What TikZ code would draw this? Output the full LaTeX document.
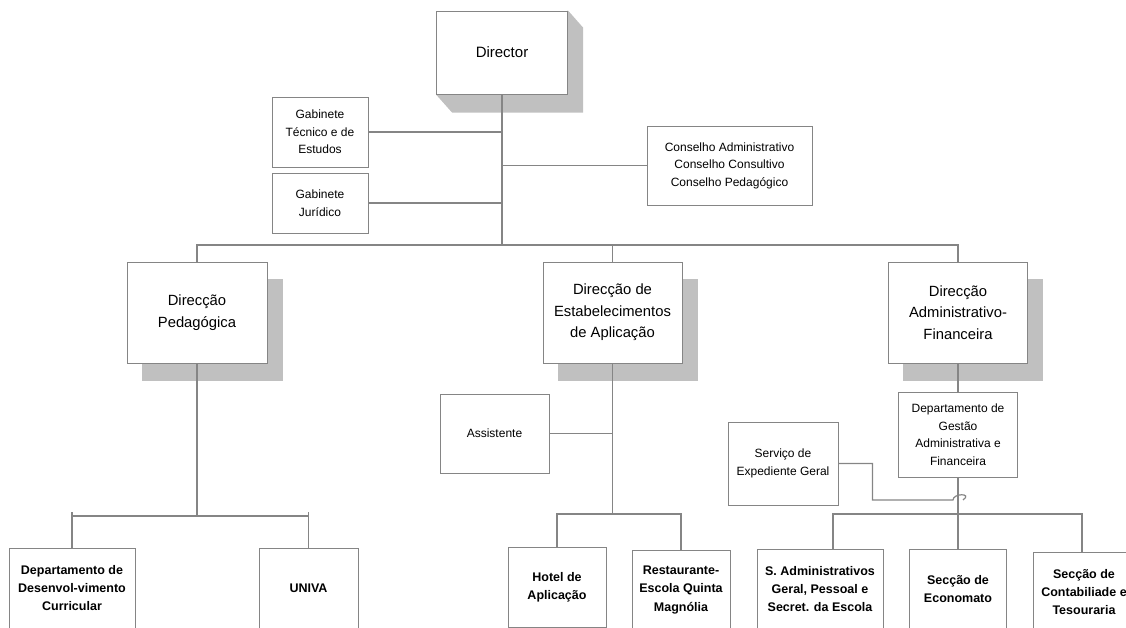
\documentclass[tikz,border=0pt]{standalone}
\usepackage{fontspec}
\setmainfont{Liberation Sans}
\usetikzlibrary{backgrounds}
\definecolor{linegray}{HTML}{858585}
\definecolor{shadowgray}{HTML}{C0C0C0}
\begin{document}
\begin{tikzpicture}[x=1pt,y=-1pt,
  bx/.style={draw=linegray, line width=1pt, fill=white, align=center, inner sep=0pt},
  bigtxt/.style={font=\fontsize{14.8}{21.5}\selectfont},
  dirtxt/.style={font=\fontsize{15}{18}\selectfont},
  smtxt/.style={font=\fontsize{12}{17.5}\selectfont},
  bdtxt/.style={font=\fontsize{12.5}{18.2}\selectfont\bfseries},
  conn/.style={draw=linegray, line width=1.2pt},
  shad/.style={fill=shadowgray, draw=none}]
\useasboundingbox (0,0) rectangle (1126,627);
\clip (0,0) rectangle (1126,627);

% top level
\node[bx, dirtxt, minimum width=131pt, minimum height=83pt] (dir) at (502,52.5) {Director};
\node[bx, smtxt, minimum width=96pt, minimum height=70pt] (gte) at (320,132) {Gabinete\\Técnico e de\\Estudos};
\node[bx, smtxt, minimum width=96pt, minimum height=60pt] (gj) at (320,203) {Gabinete\\Jurídico};
\node[bx, smtxt, minimum width=165pt, minimum height=79pt] (cons) at (729.5,165.5) {Conselho Administrativo\\Conselho Consultivo\\Conselho Pedagógico};

% direcções
\node[bx, bigtxt, minimum width=140pt, minimum height=101pt] (dp) at (197,312.5) {Direcção\\Pedagógica};
\node[bx, bigtxt, minimum width=139pt, minimum height=101pt] (de) at (612.5,312.5) {Direcção de\\Estabelecimentos\\de Aplicação};
\node[bx, bigtxt, minimum width=139pt, minimum height=101pt] (da) at (958,312.5) {Direcção\\Administrativo-\\Financeira};

% middle level
\node[bx, smtxt, minimum width=109pt, minimum height=79pt] (asis) at (494.5,433.5) {Assistente};
\node[bx, smtxt, minimum width=119pt, minimum height=85pt] (dg) at (958,434.5) {Departamento de\\Gestão\\Administrativa e\\Financeira};
\node[bx, smtxt, minimum width=110pt, minimum height=83pt] (serv) at (783,463.5) {Serviço de\\Expediente Geral};

% bottom level
\node[bx, bdtxt, minimum width=126pt, minimum height=80pt] (ddc) at (72,588) {Departamento de\\Desenvol-vimento\\Curricular};
\node[bx, bdtxt, minimum width=99pt, minimum height=80pt] (univa) at (308.5,588) {UNIVA};
\node[bx, bdtxt, minimum width=98pt, minimum height=80pt] (hotel) at (557,587) {Hotel de\\Aplicação};
\node[bx, bdtxt, minimum width=98pt, minimum height=80pt] (rest) at (681,590) {Restaurante-\\Escola Quinta\\Magnólia};
\node[bx, bdtxt, minimum width=126pt, minimum height=80pt] (sadm) at (820,589) {S. Administrativos\\Geral, Pessoal e\\Secret. da Escola};
\node[bx, bdtxt, minimum width=97pt, minimum height=80pt] (econ) at (958,589) {Secção de\\Economato};
\node[bx, bdtxt, minimum width=102pt, minimum height=80pt] (cont) at (1084,592) {Secção de\\Contabiliade e\\Tesouraria};

% shadows
\begin{scope}[on background layer]
\fill[shad] (dir.north east) -- ++(15,17) -- ([shift={(15,18)}]dir.south east)
  -- ([shift={(16,18)}]dir.south west) -- (dir.south west) -- cycle;
\foreach \n in {dp,de,da}{
  \fill[shad] ([shift={(15,17)}]\n.south west) rectangle ([shift={(15,17)}]\n.north east);
}
\end{scope}

% coordinates
\coordinate (b1) at (502,245);
\coordinate (hop) at (953,500);
\coordinate (pbus) at (0,516);
\coordinate (abus) at (0,514);
\coordinate (cstem) at (1082,552);

% connectors top
\draw[conn] (dir.south) -- (b1);
\draw[conn] (gte.east) -- (gte.east -| b1);
\draw[conn] (gj.east) -- (gj.east -| b1);
\draw[conn] (cons.west) -- (cons.west -| b1);
\draw[conn] (dp.north) |- (b1) -| (da.north);
\draw[conn] (de.north) -- (de.north |- b1);

% pedagógica branch
\draw[conn] (dp.south) -- ++(0,151);
\draw[conn] (ddc.north) -- ++(0,-36);
\draw[conn] (univa.north) -- ++(0,-36);
\draw[conn] (ddc.north |- pbus) -- (univa.north |- pbus);

% estabelecimentos branch
\draw[conn] (de.south) -- (de.south |- abus);
\draw[conn] (asis.east) -- (asis.east -| de.south);
\draw[conn] (hotel.north) -- (hotel.north |- abus) -| (rest.north);

% administrativo branch
\draw[conn] (da.south) -- (dg.north);
\draw[conn] (dg.south) -- (dg.south |- abus);
\draw[conn] ([xshift=13pt]sadm.north) -- ([xshift=13pt]sadm.north |- abus) -| (cstem);
\draw[conn] (econ.north) -- (econ.north |- abus);
\draw[conn] (serv.east) -- ++(34,0) |- (hop) .. controls ++(0,-7) and ++(10,-7) .. ++(10,0);
\end{tikzpicture}
\end{document}
